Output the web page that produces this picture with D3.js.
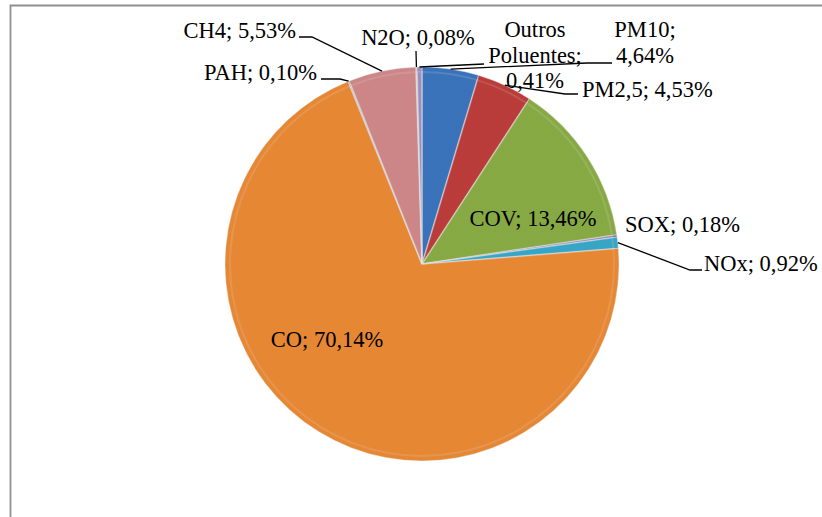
<!DOCTYPE html>
<html>
<head>
<meta charset="utf-8">
<script src="https://cdn.jsdelivr.net/npm/d3@7"></script>
<style>
  html, body { margin: 0; padding: 0; background: #fff; }
  svg { display: block; }
  text { font-family: "Liberation Serif", "DejaVu Serif", serif; font-size: 22.5px; fill: #000; }
</style>
</head>
<body>
<svg id="chart" width="822" height="517"></svg>
<script>
// ---- Data ----
const categories = ["PM10", "PM2,5", "COV", "SOX", "NOx", "CO", "PAH", "CH4", "N2O", "Outros Poluentes"];
const values = [4.64, 4.53, 13.46, 0.18, 0.92, 70.14, 0.10, 5.53, 0.08, 0.41];
const colors = ["#3E7BC8", "#C8413E", "#92B74A", "#8C72B8", "#3AB2D6", "#FA9238", "#8FB0DC", "#DE9192", "#C3D69B", "#A89BCF"];

// ---- Layout ----
const W = 822, H = 517;
const cx = 422, cy = 264, R = 197;
const lineH = 25.5;

// label layout (relative to chart), leader bend points
const labelLayout = {
  "PM10":             { x: 645, y: 37,  anchor: "middle", wrap: true,  leader: [[587, 63], [612, 63]] },
  "PM2,5":            { x: 582, y: 97,  anchor: "start",  wrap: false, leader: [[565, 94], [578, 94]] },
  "COV":              { x: 533, y: 226, anchor: "middle", wrap: false, leader: null },
  "SOX":              { x: 625, y: 232, anchor: "start",  wrap: false, leader: null },
  "NOx":              { x: 704, y: 271, anchor: "start",  wrap: false, leader: [[690, 270], [702, 270]] },
  "CO":               { x: 327, y: 347, anchor: "middle", wrap: false, leader: null },
  "PAH":              { x: 317, y: 80,  anchor: "end",    wrap: false, leader: [[340, 79], [321, 79]] },
  "CH4":              { x: 296, y: 38,  anchor: "end",    wrap: false, leader: [[312, 37], [299, 37]] },
  "N2O":              { x: 418, y: 45,  anchor: "middle", wrap: false, leader: [[416, 51]] },
  "Outros Poluentes": { x: 535, y: 37,  anchor: "middle", wrap: true,  leader: [[484, 64]] }
};

const locale = d3.formatLocale({ decimal: ",", thousands: ".", grouping: [3], currency: ["", "€"] });
const fmt = locale.format(".2f");

const svg = d3.select("#chart");

// frame
svg.append("path")
  .attr("d", `M10.5,${H + 2} L10.5,5.5 L${W + 2},5.5`)
  .attr("fill", "none").attr("stroke", "#8f8f8f").attr("stroke-width", 1.8);

const data = categories.map((c, i) => ({ cat: c, value: values[i], color: colors[i] }));

const pie = d3.pie().sort(null).value(d => d.value).startAngle(0).endAngle(2 * Math.PI);
const arcs = pie(data);
const arc = d3.arc().innerRadius(0).outerRadius(R);
const arcInner = d3.arc().innerRadius(0).outerRadius(R - 5);

const defs = svg.append("defs");
data.forEach((d, i) => {
  const g = defs.append("linearGradient")
    .attr("id", "grad" + i)
    .attr("gradientUnits", "userSpaceOnUse")
    .attr("x1", cx - R * 0.4).attr("y1", cy - R)
    .attr("x2", cx + R * 0.3).attr("y2", cy + R);
  const c = d3.color(d.color);
  g.append("stop").attr("offset", 0).attr("stop-color", c.brighter(0.08).formatHex());
  g.append("stop").attr("offset", 0.45).attr("stop-color", c.formatHex());
  g.append("stop").attr("offset", 1).attr("stop-color", c.darker(0.38).formatHex());
});
const rim = defs.append("radialGradient").attr("id", "rim")
  .attr("gradientUnits", "userSpaceOnUse")
  .attr("cx", cx).attr("cy", cy).attr("r", R);
rim.append("stop").attr("offset", 0.94).attr("stop-color", "#000").attr("stop-opacity", 0);
rim.append("stop").attr("offset", 1).attr("stop-color", "#000").attr("stop-opacity", 0.1);

const g = svg.append("g").attr("transform", `translate(${cx},${cy})`);

g.selectAll("path.slice")
  .data(arcs)
  .join("path")
  .attr("class", "slice")
  .attr("d", arc)
  .attr("fill", (d, i) => `url(#grad${i})`)
  .attr("stroke", "rgba(255,255,255,0.5)")
  .attr("stroke-width", 1);

// subtle inner bevel highlight
g.selectAll("path.bevel")
  .data(arcs)
  .join("path")
  .attr("class", "bevel")
  .attr("d", arcInner)
  .attr("fill", "none")
  .attr("stroke", "rgba(255,255,255,0.15)")
  .attr("stroke-width", 2);

g.append("circle").attr("r", R).attr("fill", "url(#rim)");

// leader lines
arcs.forEach(a => {
  const L = labelLayout[a.data.cat];
  if (!L || !L.leader) return;
  const mid = (a.startAngle + a.endAngle) / 2;
  const start = [cx + R * Math.sin(mid), cy - R * Math.cos(mid)];
  const pts = [start].concat(L.leader);
  svg.append("path")
    .attr("d", d3.line()(pts))
    .attr("fill", "none")
    .attr("stroke", "#000")
    .attr("stroke-width", 1.3);
});

// labels
arcs.forEach(a => {
  const L = labelLayout[a.data.cat];
  const full = `${a.data.cat}; ${fmt(a.data.value)}%`;
  let lines;
  if (L.wrap) {
    const parts = (a.data.cat + ";").split(" ");
    lines = parts.concat([fmt(a.data.value) + "%"]);
  } else {
    lines = [full];
  }
  const t = svg.append("text")
    .attr("text-anchor", L.anchor)
    .attr("x", L.x).attr("y", L.y);
  lines.forEach((ln, k) => {
    t.append("tspan").attr("x", L.x).attr("dy", k === 0 ? 0 : lineH).text(ln);
  });
});
</script>
</body>
</html>
